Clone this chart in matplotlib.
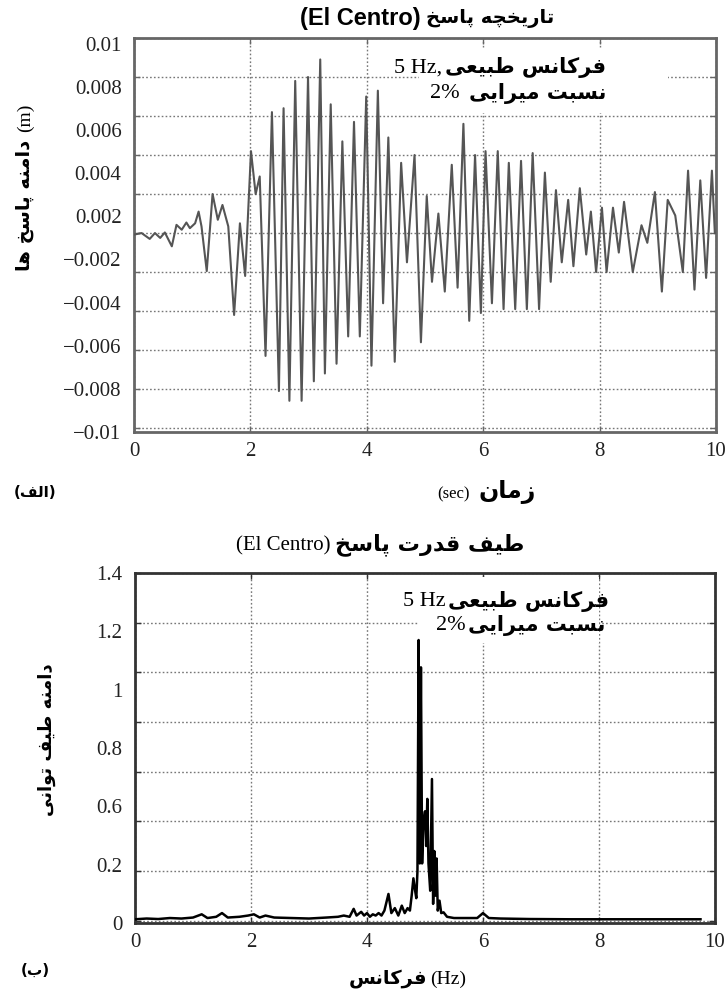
import numpy as np
import matplotlib
matplotlib.use("Agg")
import matplotlib.pyplot as plt
from matplotlib.patches import Rectangle

# ---------------- data ----------------
time_s = [0.00, 0.13, 0.27, 0.36, 0.45, 0.53, 0.65, 0.73, 0.82, 0.90, 0.96, 1.05, 1.11, 1.16,
          1.25, 1.35, 1.44, 1.52, 1.62, 1.72, 1.82, 1.91, 2.01, 2.09, 2.16, 2.26, 2.37, 2.49,
          2.57, 2.67, 2.77, 2.88, 2.99, 3.09, 3.20, 3.28, 3.38, 3.48, 3.58, 3.68, 3.78, 3.88,
          3.99, 4.08, 4.19, 4.28, 4.37, 4.48, 4.59, 4.69, 4.82, 4.93, 5.03, 5.12, 5.23, 5.34,
          5.46, 5.56, 5.66, 5.76, 5.86, 5.96, 6.04, 6.15, 6.25, 6.35, 6.44, 6.55, 6.65, 6.75,
          6.85, 6.96, 7.06, 7.16, 7.25, 7.35, 7.46, 7.55, 7.66, 7.77, 7.85, 7.94, 8.04, 8.12,
          8.23, 8.33, 8.42, 8.57, 8.72, 8.82, 8.95, 9.07, 9.17, 9.30, 9.43, 9.52, 9.63, 9.73,
          9.83, 9.93, 9.98]
resp_m = [-0.00008, 0.0, -0.0003, 0.0, -0.00025, 0.00003, -0.00068, 0.00042, 0.00017, 0.00054,
          0.00025, 0.0005, 0.0011, 0.00034, -0.00195, 0.0020, 0.00068, 0.00144, 0.00034, -0.0042,
          0.0005, -0.0022, 0.0042, 0.0020, 0.0029, -0.0063, 0.0062, -0.0081, 0.0064, -0.0086,
          0.0078, -0.0086, 0.0080, -0.0076, 0.0089, -0.0072, 0.0066, -0.0067, 0.0047, -0.0053,
          0.0057, -0.0053, 0.0070, -0.0068, 0.0073, -0.0036, 0.0049, -0.0066, 0.0036, -0.0015,
          0.0040, -0.0056, 0.0019, -0.0025, 0.0010, -0.0030, 0.0035, -0.0028, 0.0056, -0.0045,
          0.0040, -0.0041, 0.0042, -0.0036, 0.0042, -0.0039, 0.0036, -0.0039, 0.0037, -0.0039,
          0.0041, -0.0039, 0.0031, -0.0025, 0.0022, -0.0015, 0.0017, -0.0017, 0.0023, -0.0011,
          0.0011, -0.0020, 0.0013, -0.0020, 0.0013, -0.0010, 0.0016, -0.0020, 0.0004, -0.0005,
          0.0021, -0.0030, 0.0017, 0.0009, -0.0020, 0.0032, -0.0029, 0.0027, -0.0023, 0.0032,
          0.0]

freq_hz = [0.0, 0.2, 0.4, 0.6, 0.8, 1.0, 1.15, 1.25, 1.4, 1.5, 1.6, 1.8, 1.95, 2.05, 2.15,
           2.25, 2.4, 2.7, 3.0, 3.3, 3.5, 3.6, 3.7, 3.77, 3.82, 3.9, 3.95, 4.0, 4.05, 4.1,
           4.15, 4.2, 4.25, 4.3, 4.37, 4.42, 4.48, 4.54, 4.6, 4.65, 4.7, 4.74, 4.77, 4.80,
           4.83, 4.85, 4.87, 4.89, 4.91, 4.93, 4.95, 4.97, 5.00, 5.02, 5.04, 5.06, 5.09, 5.12,
           5.14, 5.16, 5.18, 5.20, 5.22, 5.25, 5.28, 5.32, 5.38, 5.5, 5.7, 5.9, 6.0, 6.1,
           6.3, 6.8, 7.5, 8.5, 9.75]
power = [0.005, 0.008, 0.006, 0.010, 0.008, 0.012, 0.025, 0.010, 0.015, 0.030, 0.012, 0.015,
         0.020, 0.025, 0.012, 0.020, 0.012, 0.010, 0.008, 0.012, 0.015, 0.020, 0.015, 0.047,
         0.020, 0.035, 0.020, 0.030, 0.015, 0.025, 0.020, 0.030, 0.020, 0.040, 0.107, 0.030,
         0.050, 0.020, 0.060, 0.030, 0.050, 0.040, 0.100, 0.170, 0.120, 0.090, 0.200, 1.130,
         0.230, 1.020, 0.230, 0.390, 0.440, 0.300, 0.490, 0.230, 0.120, 0.570, 0.067, 0.280,
         0.100, 0.250, 0.040, 0.080, 0.030, 0.033, 0.015, 0.010, 0.010, 0.010, 0.030, 0.010,
         0.008, 0.006, 0.005, 0.005, 0.005]

x_ticks = [0, 2, 4, 6, 8, 10]
top_ylabels = ["0.01", "0.008", "0.006", "0.004", "0.002", "\u22120.002", "\u22120.004",
               "\u22120.006", "\u22120.008", "\u22120.01"]
bot_ylabels = ["1.4", "1.2", "1", "0.8", "0.6", "0.2", "0"]

TITLE_TOP_FA = "تاریخچه پاسخ"
TITLE_EN = "(El Centro)"
ANN_FREQ_FA = "فرکانس طبیعی"
ANN_DAMP_FA = "نسبت میرایی"
YLAB_TOP_FA = "دامنه پاسخ ها"
XLAB_TOP_FA = "زمان"
PANEL_A_FA = "الف"
TITLE_BOT_FA = "طیف قدرت پاسخ"
YLAB_BOT_FA = "دامنه طیف توانی"
XLAB_BOT_FA = "فرکانس"
PANEL_B_FA = "ب"

# ---------------- minimal Persian shaping (presentation forms) + RTL order ----------------
FORMS = {
    "\u0627": ("\uFE8D", "\uFE8E", None, None),
    "\u0622": ("\uFE81", "\uFE82", None, None),
    "\u0628": ("\uFE8F", "\uFE90", "\uFE91", "\uFE92"),
    "\u067E": ("\uFB56", "\uFB57", "\uFB58", "\uFB59"),
    "\u062A": ("\uFE95", "\uFE96", "\uFE97", "\uFE98"),
    "\u062B": ("\uFE99", "\uFE9A", "\uFE9B", "\uFE9C"),
    "\u062C": ("\uFE9D", "\uFE9E", "\uFE9F", "\uFEA0"),
    "\u0686": ("\uFB7A", "\uFB7B", "\uFB7C", "\uFB7D"),
    "\u062D": ("\uFEA1", "\uFEA2", "\uFEA3", "\uFEA4"),
    "\u062E": ("\uFEA5", "\uFEA6", "\uFEA7", "\uFEA8"),
    "\u062F": ("\uFEA9", "\uFEAA", None, None),
    "\u0630": ("\uFEAB", "\uFEAC", None, None),
    "\u0631": ("\uFEAD", "\uFEAE", None, None),
    "\u0632": ("\uFEAF", "\uFEB0", None, None),
    "\u0698": ("\uFB8A", "\uFB8B", None, None),
    "\u0633": ("\uFEB1", "\uFEB2", "\uFEB3", "\uFEB4"),
    "\u0634": ("\uFEB5", "\uFEB6", "\uFEB7", "\uFEB8"),
    "\u0637": ("\uFEC1", "\uFEC2", "\uFEC3", "\uFEC4"),
    "\u0639": ("\uFEC9", "\uFECA", "\uFECB", "\uFECC"),
    "\u063A": ("\uFECD", "\uFECE", "\uFECF", "\uFED0"),
    "\u0641": ("\uFED1", "\uFED2", "\uFED3", "\uFED4"),
    "\u0642": ("\uFED5", "\uFED6", "\uFED7", "\uFED8"),
    "\u06A9": ("\uFB8E", "\uFB8F", "\uFB90", "\uFB91"),
    "\u06AF": ("\uFB92", "\uFB93", "\uFB94", "\uFB95"),
    "\u0644": ("\uFEDD", "\uFEDE", "\uFEDF", "\uFEE0"),
    "\u0645": ("\uFEE1", "\uFEE2", "\uFEE3", "\uFEE4"),
    "\u0646": ("\uFEE5", "\uFEE6", "\uFEE7", "\uFEE8"),
    "\u0648": ("\uFEED", "\uFEEE", None, None),
    "\u0647": ("\uFEE9", "\uFEEA", "\uFEEB", "\uFEEC"),
    "\u06CC": ("\uFBFC", "\uFBFD", "\uFBFE", "\uFBFF"),
}


def fa(s):
    out = []
    n = len(s)
    for i, c in enumerate(s):
        if c not in FORMS:
            out.append(c)
            continue
        f = FORMS[c]
        prev = s[i - 1] if i > 0 else ""
        nxt = s[i + 1] if i < n - 1 else ""
        jp = prev in FORMS and FORMS[prev][2] is not None
        jn = nxt in FORMS and f[2] is not None
        if jp and jn:
            out.append(f[3])
        elif jp:
            out.append(f[1])
        elif jn:
            out.append(f[2])
        else:
            out.append(f[0])
    return "".join(out)[::-1]


# ---------------- figure ----------------
W, H = 727, 997
fig = plt.figure(figsize=(W / 100, H / 100), dpi=100)
fig.patch.set_facecolor("white")

FA_FONT = "DejaVu Sans"
SERIF = "Liberation Serif"


def ptext(px, py, s, **kw):
    return fig.text(px / W, 1 - py / H, s, **kw)


def axes_px(left, top, right, bottom):
    return fig.add_axes([left / W, 1 - bottom / H, (right - left) / W, (bottom - top) / H])


def style_axes(ax, spine_color, ygrid, ylab_pos, ylabels):
    ax.yaxis.remove_overlapping_locs = False
    ax.set_xlim(0, 10)
    ax.set_xticks(x_ticks)
    ax.set_xticklabels([str(v) for v in x_ticks], fontfamily=SERIF, fontsize=15, color="#222222")
    ax.set_yticks(ygrid)
    ax.set_yticklabels([""] * len(ygrid))
    ax.set_yticks(ylab_pos, minor=True)
    ax.set_yticklabels(ylabels, minor=True, fontfamily=SERIF, fontsize=15, color="#222222")
    ax.tick_params(axis="y", which="minor", length=0, pad=9)
    ax.tick_params(axis="both", which="major", direction="in", length=4, width=1,
                   top=True, right=True, color=spine_color)
    ax.tick_params(axis="x", which="major", pad=7)
    ax.grid(True, which="major", linestyle=(0, (1.2, 1.6)), color="#777777", linewidth=1.0)
    for s in ax.spines.values():
        s.set_color(spine_color)
        s.set_linewidth(2.0)


# ---- top panel: response time history ----
ax1 = axes_px(134, 38, 716, 432)
ax1.plot(time_s, resp_m, color="#555555", linewidth=1.5, zorder=3)
ax1.set_ylim(-0.01, 0.01)
ygrid1 = np.round(np.arange(-0.01, 0.01001, 0.002), 4)
style_axes(ax1, "#666666", ygrid1, np.linspace(0.0097, -0.0102, 10), top_ylabels)
ax1.add_patch(Rectangle((0.489, 0.81), 0.428, 0.165, transform=ax1.transAxes,
                        facecolor="white", edgecolor="none", zorder=2.5))
ax1.text(0.53, 0.925, "5 Hz,", transform=ax1.transAxes, fontfamily=SERIF, fontsize=16,
         ha="right", va="center", zorder=4)
ax1.text(0.535, 0.925, fa(ANN_FREQ_FA), transform=ax1.transAxes, fontfamily=FA_FONT,
         fontweight="bold", fontsize=15, ha="left", va="center", zorder=4)
ax1.text(0.56, 0.86, "2%", transform=ax1.transAxes, fontfamily=SERIF, fontsize=16,
         ha="right", va="center", zorder=4)
ax1.text(0.575, 0.86, fa(ANN_DAMP_FA), transform=ax1.transAxes, fontfamily=FA_FONT,
         fontweight="bold", fontsize=15, ha="left", va="center", zorder=4)

# ---- bottom panel: power spectrum ----
ax2 = axes_px(135, 573, 715, 923)
ax2.plot(freq_hz, power, color="black", linewidth=1.8, zorder=3)
ax2.set_ylim(0, 1.4)
ygrid2 = np.round(np.arange(0, 1.401, 0.2), 2)
style_axes(ax2, "#333333", ygrid2, np.linspace(1.4, -0.01, 7), bot_ylabels)
ax2.add_patch(Rectangle((0.49, 0.80), 0.31, 0.19, transform=ax2.transAxes,
                        facecolor="white", edgecolor="none", zorder=2.5))
ax2.text(0.535, 0.92, "5 Hz", transform=ax2.transAxes, fontfamily=SERIF, fontsize=16,
         ha="right", va="center", zorder=4)
ax2.text(0.54, 0.92, fa(ANN_FREQ_FA), transform=ax2.transAxes, fontfamily=FA_FONT,
         fontweight="bold", fontsize=15, ha="left", va="center", zorder=4)
ax2.text(0.57, 0.85, "2%", transform=ax2.transAxes, fontfamily=SERIF, fontsize=16,
         ha="right", va="center", zorder=4)
ax2.text(0.575, 0.85, fa(ANN_DAMP_FA), transform=ax2.transAxes, fontfamily=FA_FONT,
         fontweight="bold", fontsize=15, ha="left", va="center", zorder=4)

# ---- titles / labels ----
ptext(421, 18, TITLE_EN, fontfamily="Liberation Sans", fontweight="bold", fontsize=17,
      ha="right", va="center")
ptext(426, 18, fa(TITLE_TOP_FA), fontfamily=FA_FONT, fontweight="bold", fontsize=14,
      ha="left", va="center")

ptext(25, 118, "(m)", fontfamily=SERIF, fontsize=14, rotation=90, ha="center", va="center")
ptext(25, 205, fa(YLAB_TOP_FA), fontfamily=FA_FONT, fontweight="bold", fontsize=14,
      rotation=90, ha="center", va="center")

ptext(470, 494, "(sec)", fontfamily=SERIF, fontsize=12, ha="right", va="center")
ptext(478, 492, fa(XLAB_TOP_FA), fontfamily=FA_FONT, fontweight="bold", fontsize=17,
      ha="left", va="center")
ptext(35, 492, "(" + fa(PANEL_A_FA) + ")", fontfamily=FA_FONT, fontweight="bold",
      fontsize=11, ha="center", va="center")

ptext(335, 545, fa(TITLE_BOT_FA), fontfamily=FA_FONT, fontweight="bold", fontsize=16,
      ha="left", va="center")
ptext(330, 546, TITLE_EN, fontfamily=SERIF, fontsize=15, ha="right", va="center")

ptext(47, 740, fa(YLAB_BOT_FA), fontfamily=FA_FONT, fontweight="bold", fontsize=13,
      rotation=90, ha="center", va="center")

ptext(427, 978, fa(XLAB_BOT_FA), fontfamily=FA_FONT, fontweight="bold", fontsize=14,
      ha="right", va="center")
ptext(430, 979, "(Hz)", fontfamily=SERIF, fontsize=14, ha="left", va="center")
ptext(35, 970, "(" + fa(PANEL_B_FA) + ")", fontfamily=FA_FONT, fontweight="bold",
      fontsize=11, ha="center", va="center")

fig.savefig("out.png", dpi=100, facecolor="white")
